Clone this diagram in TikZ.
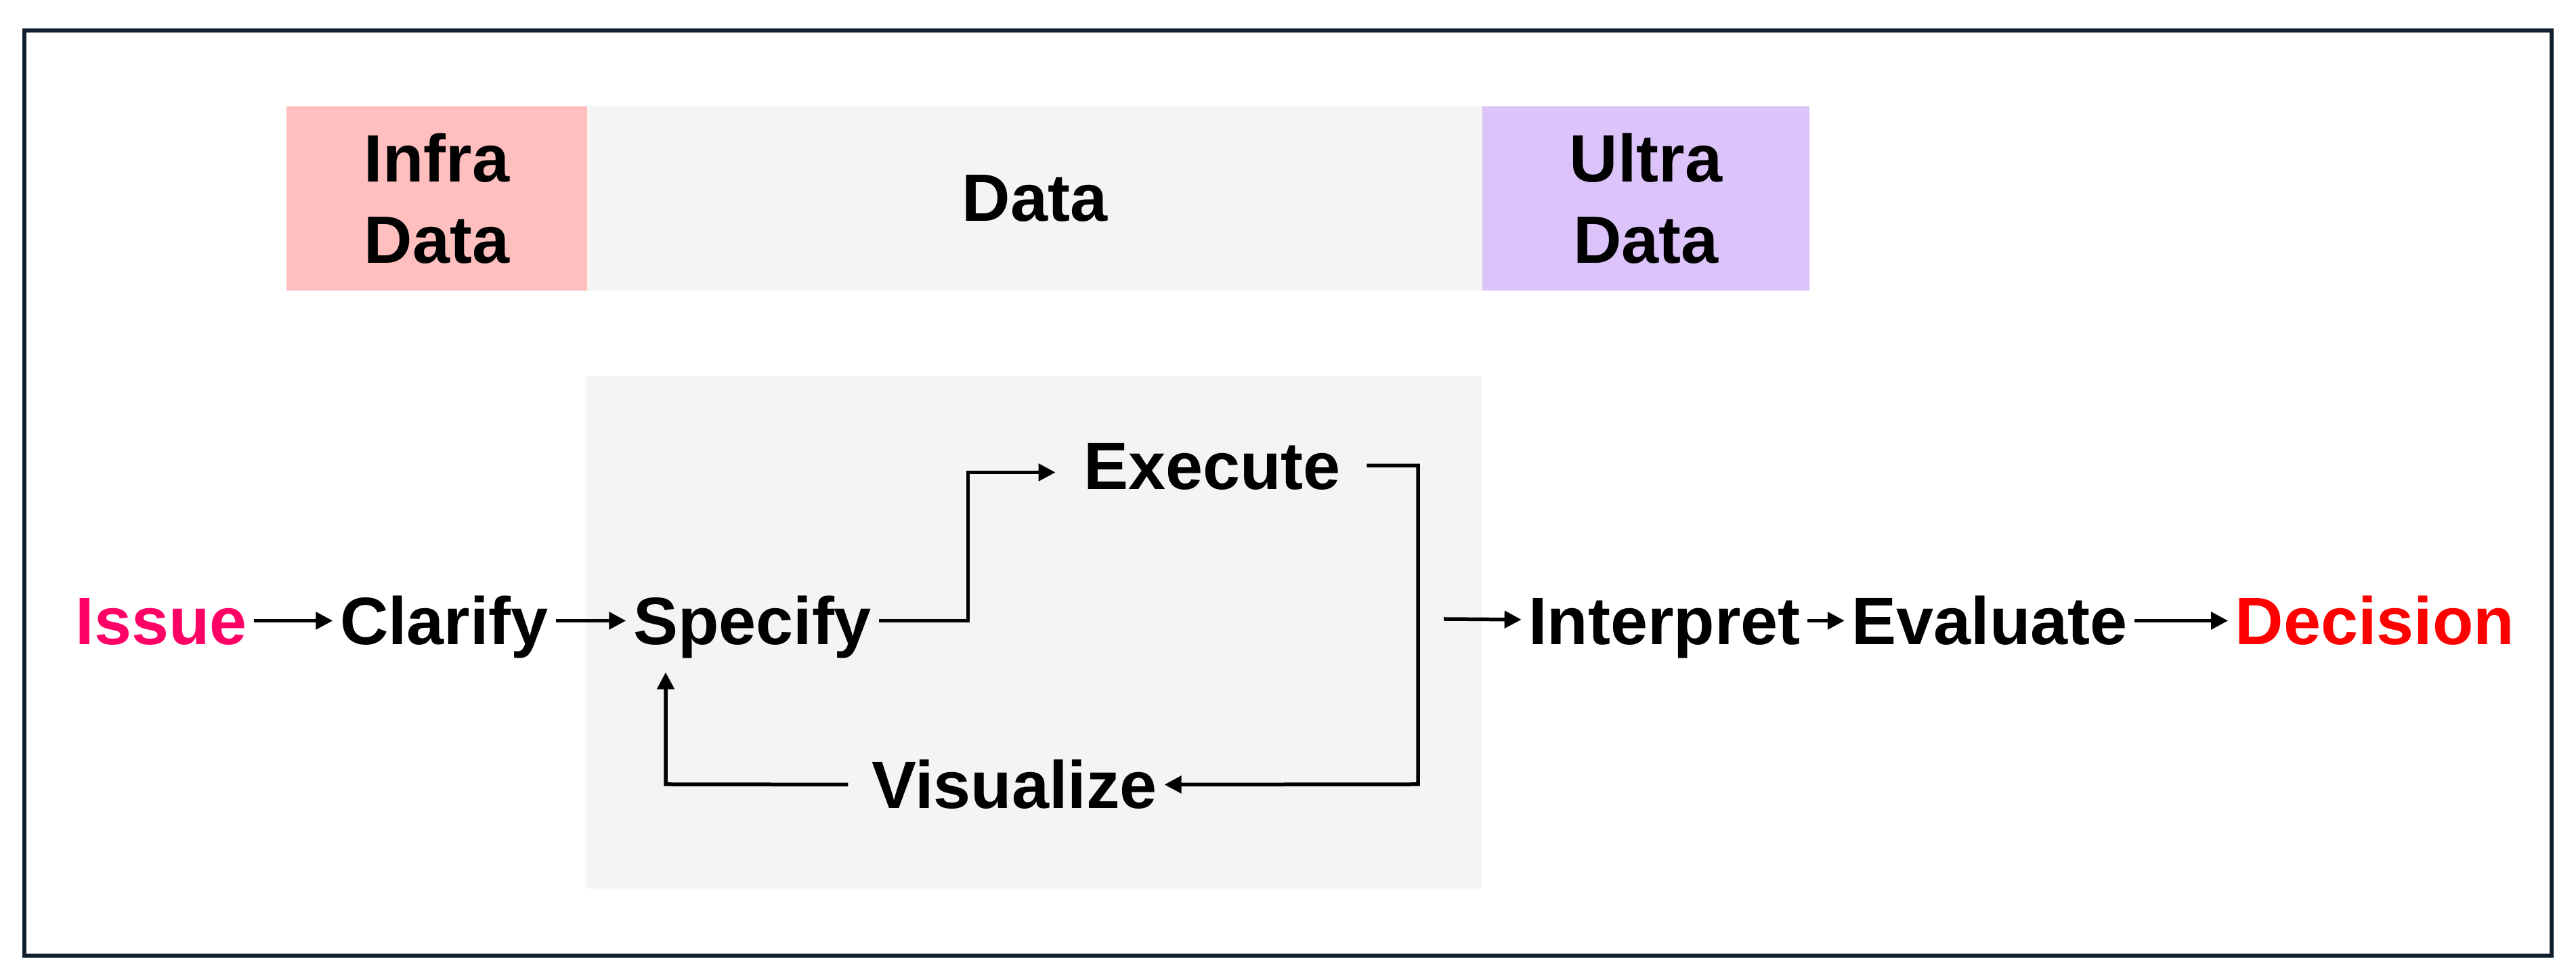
\documentclass[tikz,border=0pt]{standalone}
\usepackage{fontspec}
\setmainfont{Liberation Sans}
\usetikzlibrary{arrows.meta}
\definecolor{issuepink}{HTML}{FF0066}
\definecolor{decisionred}{HTML}{FF0000}
\definecolor{infrapink}{HTML}{FFBFBF}
\definecolor{ultralilac}{HTML}{DCC3FA}
\definecolor{datagray}{HTML}{F4F4F4}
\definecolor{framenavy}{HTML}{10202F}

\begin{document}
\begin{tikzpicture}[
		stage/.style={font=\fontsize{28.15}{34.1}\selectfont\bfseries, text height=0.71cm, text depth=0cm, inner sep=0.1cm, anchor=base},
		band/.style={font=\fontsize{28.15}{34.1}\selectfont\bfseries, inner sep=0cm, minimum height=2.72cm, align=center},
		flow/.style={line width=0.055cm, -{Triangle[length=0.25cm, width=0.25cm]}}]
		\useasboundingbox (0,0) rectangle (38.04,14.44);
		\draw[framenavy, line width=0.055cm] (0.36,0.33) rectangle (37.68,13.99);
		
		% data bands on top
		\node[band, fill=infrapink, minimum width=4.44cm] (infra) at (6.45,11.51) {Infra\\Data};
		\node[band, fill=datagray, minimum width=13.22cm] (data) at (15.28,11.51) {Data};
		\node[band, fill=ultralilac, minimum width=4.83cm] (ultra) at (24.305,11.51) {Ultra\\Data};
		
		% loop area
		\fill[datagray] (8.66,1.32) rectangle (21.88,8.89);
		
		\node[stage, text=issuepink] (issue) at (2.38,4.92) {Issue};
		\node[stage] (clarify) at (6.56,4.92) {Clarify};
		\node[stage] (specify) at (11.11,4.92) {Specify};
		\node[stage] (execute) at (17.90,7.21) {Execute};
		\node[stage] (visualize) at (14.98,2.50) {Visualize};
		\node[stage] (interpret) at (24.58,4.92) {Interpret};
		\node[stage] (evaluate) at (29.38,4.92) {Evaluate};
		\node[stage, text=decisionred] (decision) at (35.07,4.92) {Decision};
		
		\coordinate (loopr) at (20.94,2.86);
		\coordinate (loopl) at (9.83,2.86);
		\coordinate (boxout) at (21.32,5.30);
		
		\foreach \a/\b in {issue/clarify, clarify/specify, interpret/evaluate, evaluate/decision}
		{
			\draw[flow] (\a) -- (\b);
		}
		\draw[flow] (boxout) -- (interpret);
		\draw[flow, shorten >=0.31cm] (specify.east) -- ++(1.32,0) |- ([yshift=-0.1cm]execute.west);
		\draw[flow, shorten <=0.28cm] (execute.east) -| (loopr) -- (visualize.east);
		\draw[flow, shorten <=0.24cm, shorten >=0.3cm] (visualize.west) -- (loopl) -- (loopl |- specify.south);
	\end{tikzpicture}
\end{document}
